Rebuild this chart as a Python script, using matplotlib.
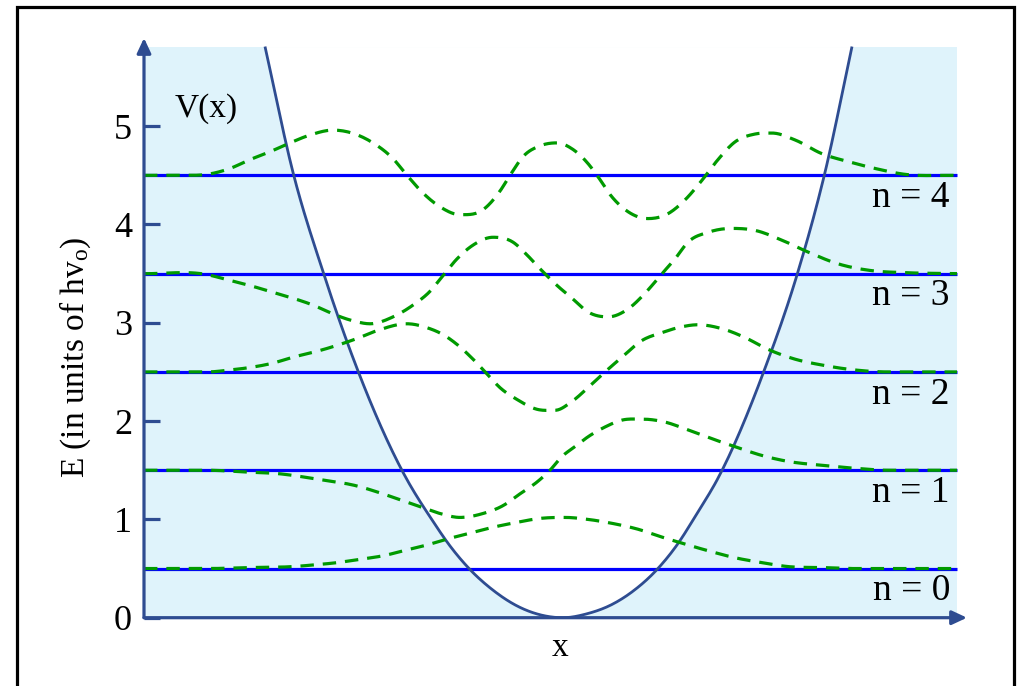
import numpy as np
import matplotlib
matplotlib.use("Agg")
import matplotlib.pyplot as plt
from matplotlib.patches import Rectangle

plt.rcParams["font.family"] = ["Liberation Serif", "DejaVu Serif"]
plt.rcParams["mathtext.fontset"] = "custom"
plt.rcParams["mathtext.rm"] = "Liberation Serif"
plt.rcParams["mathtext.it"] = "Liberation Serif:italic"

# ---- data -------------------------------------------------------------
quantum_numbers = [0, 1, 2, 3, 4]
energy_levels = [0.5, 1.5, 2.5, 3.5, 4.5]          # E_n in units of h*nu_0
ytick_values = [0, 1, 2, 3, 4, 5]

# potential energy curve V(x)
pot_x = [-2.95, -2.67, -2.37, -2.02, -1.56, -1.27, -1.10, -0.90, -0.67, -0.43,
         -0.20, 0.03, 0.27, 0.53, 0.73, 0.97, 1.17, 1.37, 1.57, 2.04,
         2.38, 2.65, 2.92]
pot_v = [5.81, 4.53, 3.52, 2.51, 1.46, 0.98, 0.73, 0.49, 0.28, 0.12,
         0.03, 0.00, 0.04, 0.14, 0.27, 0.49, 0.74, 1.06, 1.40, 2.51,
         3.52, 4.53, 5.81]

# wavefunctions, as displacement from their energy level
psi0_x = [-4.16, -3.53, -3.10, -2.67, -2.43, -2.23, -2.03, -1.77, -1.53, -1.33,
          -1.13, -0.90, -0.67, -0.43, -0.20, 0.05, 0.28, 0.52, 0.78, 1.02,
          1.28, 1.52, 1.75, 2.02, 2.28, 2.62, 2.95, 3.97]
psi0_a = [0.00, 0.00, 0.01, 0.02, 0.04, 0.06, 0.09, 0.13, 0.19, 0.24,
          0.30, 0.36, 0.42, 0.47, 0.51, 0.52, 0.50, 0.46, 0.40, 0.32,
          0.24, 0.17, 0.11, 0.06, 0.02, 0.01, 0.00, 0.00]

psi1_x = [-4.16, -3.53, -3.10, -2.87, -2.43, -2.03, -1.80, -1.60, -1.40, -1.20,
          -1.00, -0.77, -0.57, -0.40, -0.23, -0.10, 0.02, 0.15, 0.28, 0.45,
          0.62, 0.82, 1.05, 1.28, 1.52, 1.75, 2.02, 2.28, 2.62, 2.95,
          3.28, 3.97]
psi1_a = [0.00, 0.00, -0.02, -0.03, -0.09, -0.16, -0.23, -0.30, -0.37, -0.44,
          -0.48, -0.44, -0.36, -0.24, -0.12, 0.00, 0.14, 0.24, 0.34, 0.44,
          0.51, 0.52, 0.49, 0.41, 0.32, 0.24, 0.15, 0.09, 0.05, 0.02,
          0.00, 0.00]

psi2_x = [-4.16, -3.53, -3.30, -3.07, -2.87, -2.67, -2.43, -2.20, -2.03, -1.83,
          -1.53, -1.33, -1.17, -1.03, -0.87, -0.73, -0.60, -0.43, -0.23, -0.05,
          0.12, 0.28, 0.45, 0.62, 0.82, 1.02, 1.22, 1.38, 1.62, 1.85,
          2.08, 2.35, 2.62, 2.95, 3.28, 3.97]
psi2_a = [0.00, 0.00, 0.02, 0.05, 0.09, 0.15, 0.21, 0.28, 0.34, 0.42,
          0.49, 0.45, 0.38, 0.28, 0.13, -0.02, -0.16, -0.28, -0.38, -0.39,
          -0.30, -0.16, 0.00, 0.15, 0.32, 0.40, 0.46, 0.48, 0.44, 0.35,
          0.23, 0.13, 0.07, 0.02, 0.00, 0.00]

psi3_x = [-4.16, -3.53, -3.30, -3.07, -2.87, -2.67, -2.47, -2.27, -2.07, -1.90,
          -1.67, -1.47, -1.30, -1.17, -1.03, -0.87, -0.67, -0.47, -0.33, -0.20,
          -0.03, 0.12, 0.28, 0.48, 0.68, 0.85, 1.02, 1.15, 1.28, 1.48,
          1.72, 1.95, 2.22, 2.48, 2.78, 3.12, 3.45, 3.97]
psi3_a = [0.00, -0.01, -0.07, -0.13, -0.19, -0.25, -0.32, -0.41, -0.48, -0.51,
          -0.44, -0.32, -0.18, -0.02, 0.15, 0.29, 0.37, 0.32, 0.19, 0.05,
          -0.12, -0.25, -0.39, -0.44, -0.36, -0.20, 0.00, 0.15, 0.32, 0.42,
          0.46, 0.44, 0.34, 0.22, 0.10, 0.03, 0.01, 0.00]

psi4_x = [-4.16, -3.70, -3.53, -3.30, -3.10, -2.90, -2.70, -2.50, -2.27, -1.87,
          -1.67, -1.53, -1.37, -1.20, -1.00, -0.77, -0.60, -0.50, -0.37, -0.20,
          -0.03, 0.12, 0.28, 0.37, 0.52, 0.68, 0.88, 1.08, 1.25, 1.42,
          1.58, 1.75, 1.95, 2.12, 2.35, 2.62, 2.88, 3.15, 3.45, 3.88, 3.97]
psi4_a = [0.00, 0.00, 0.01, 0.07, 0.16, 0.24, 0.33, 0.41, 0.46, 0.33,
          0.17, 0.00, -0.18, -0.32, -0.40, -0.35, -0.16, 0.00, 0.19, 0.30,
          0.33, 0.27, 0.12, 0.00, -0.22, -0.37, -0.44, -0.39, -0.25, -0.05,
          0.16, 0.34, 0.42, 0.43, 0.36, 0.22, 0.14, 0.07, 0.01, 0.00, 0.00]

wave_x = [psi0_x, psi1_x, psi2_x, psi3_x, psi4_x]
wave_a = [psi0_a, psi1_a, psi2_a, psi3_a, psi4_a]

# ---- styling ----------------------------------------------------------
NAVY = "#2E4C91"
LEVEL_BLUE = "#0000FF"
WAVE_GREEN = "#009A00"
SHADE = "#DFF3FB"

X_MIN, X_MAX = -4.16, 4.07
X_SHADE_END = 3.97
Y_TOP = 5.897
SHADE_TOP = 5.81


def smooth_curve(xs, ys, steps=16):
    """Cubic Hermite curve through the points.

    Slopes come from local quadratics; they are set to zero at local
    extrema so the curve does not overshoot the given points.
    """
    xs = np.asarray(xs, float)
    ys = np.asarray(ys, float)
    h = np.diff(xs)
    d = np.diff(ys) / h
    m = np.empty(len(xs))
    m[1:-1] = (h[:-1] * d[1:] + h[1:] * d[:-1]) / (h[:-1] + h[1:])
    m[1:-1][d[:-1] * d[1:] <= 0] = 0.0
    m[0] = d[0]
    m[-1] = d[-1]
    t = np.linspace(0, 1, steps + 1)[1:]
    h00 = 2 * t**3 - 3 * t**2 + 1
    h10 = t**3 - 2 * t**2 + t
    h01 = -2 * t**3 + 3 * t**2
    h11 = t**3 - t**2
    out_x, out_y = [xs[0]], [ys[0]]
    for i in range(len(xs) - 1):
        out_x.extend(xs[i] + t * h[i])
        out_y.extend(h00 * ys[i] + h10 * h[i] * m[i]
                     + h01 * ys[i + 1] + h11 * h[i] * m[i + 1])
    return np.array(out_x), np.array(out_y)


fig = plt.figure(figsize=(10.17, 6.86), dpi=100)
fig.patch.set_facecolor("white")

ax = fig.add_axes([144 / 1017, (686 - 617.7) / 686, 823 / 1017, (617.7 - 38) / 686])
ax.set_xlim(X_MIN, X_MAX)
ax.set_ylim(0, Y_TOP)
ax.patch.set_alpha(0)
for sp in ax.spines.values():
    sp.set_visible(False)

# classically forbidden region (shaded) and allowed region (white)
ax.add_patch(Rectangle((X_MIN, 0), X_SHADE_END - X_MIN, SHADE_TOP,
                       facecolor=SHADE, edgecolor="none", zorder=0))
vx, vy = smooth_curve(pot_x, pot_v)
ax.fill_between(vx, vy, SHADE_TOP, color="white", lw=0, zorder=1)

# energy levels
ax.hlines(energy_levels, X_MIN, X_SHADE_END, color=LEVEL_BLUE, lw=2.3, zorder=3)

# potential curve
ax.plot(vx, vy, color=NAVY, lw=2.0, zorder=4, solid_capstyle="butt")

# wavefunctions
for level, xs, amps in zip(energy_levels, wave_x, wave_a):
    wx, wy = smooth_curve(xs, amps)
    ax.plot(wx, level + wy, color=WAVE_GREEN, lw=2.3, ls=(0, (4.2, 2.8)), zorder=5)

# level labels
for n, level in zip(quantum_numbers, energy_levels):
    ax.text(3.90, level - 0.23, f"n = {n}", ha="right", va="center",
            fontsize=27, zorder=6)

ax.text(-3.85, 5.18, "V(x)", ha="left", va="center", fontsize=24, zorder=6)

# axes drawn as arrows
arrow_kw = dict(arrowstyle="-|>,head_length=0.9,head_width=0.42", color=NAVY,
                lw=2.3, shrinkA=0, shrinkB=0, mutation_scale=10)
ax.annotate("", xy=(X_MIN, Y_TOP), xytext=(X_MIN, 0), arrowprops=arrow_kw,
            annotation_clip=False, zorder=7)
ax.annotate("", xy=(X_MAX, 0), xytext=(X_MIN, 0), arrowprops=arrow_kw,
            annotation_clip=False, zorder=7)

ax.set_xticks([])
ax.set_yticks(ytick_values)
ax.set_yticklabels([str(v) for v in ytick_values])
ax.tick_params(axis="y", direction="in", length=11.5, width=2.3, color=NAVY,
               pad=8.6, labelsize=26)
for tl in ax.get_yticklines():
    tl.set_zorder(7)

fig.text(75 / 1017, 1 - 357 / 686, r"E (in units of hv$_{\mathrm{o}}$)",
         rotation=90, ha="center", va="center", fontsize=24)
fig.text(560 / 1017, 1 - 648 / 686, "x", ha="center", va="center", fontsize=24)

# frame around the figure
fig.add_artist(Rectangle((16.5 / 1017, -0.05), (1013.5 - 16.5) / 1017,
                         0.05 + (686 - 6.5) / 686, transform=fig.transFigure,
                         fill=False, edgecolor="black", lw=2.3))

fig.savefig("out.png", dpi=100)
